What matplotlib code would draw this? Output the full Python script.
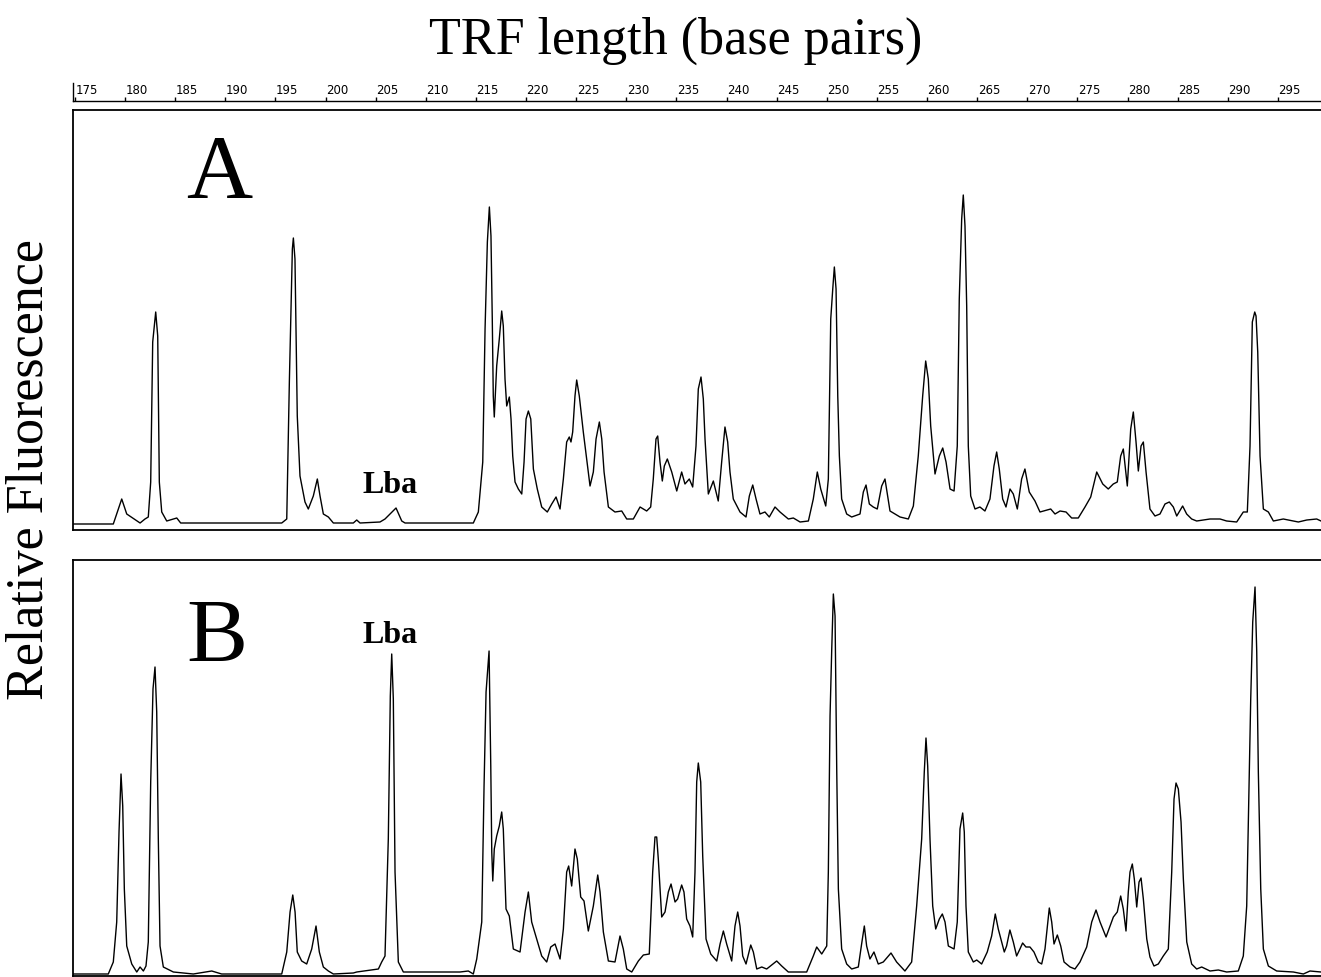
import matplotlib
matplotlib.use("Agg")
import matplotlib.pyplot as plt

# ---------------------------------------------------------
# DATA (x in base pairs)
# ---------------------------------------------------------
ruler_ticks = list(range(175, 300, 5))

# Panel A trace: TRF length (bp), relative fluorescence
a_bp = [174.84, 178.83, 179.67, 180.17, 181.50, 181.99, 182.32, 182.56, 182.76, 183.06,
        183.26, 183.42, 183.66, 184.16, 185.16, 185.55, 195.63, 196.13, 196.39, 196.69,
        196.79, 196.95, 197.18, 197.45, 197.95, 198.28, 198.78, 199.18, 199.45, 199.78,
        200.28, 200.78, 202.77, 203.11, 203.44, 205.43, 205.93, 207.03, 207.60, 207.93,
        214.74, 215.24, 215.68, 215.91, 216.14, 216.34, 216.50, 216.63, 216.73, 216.83,
        217.07, 217.33, 217.57, 217.73, 217.90, 218.07, 218.33, 218.50, 218.67, 218.90,
        219.23, 219.57, 219.80, 220.00, 220.23, 220.47, 220.73, 221.12, 221.56, 222.12,
        222.56, 222.99, 223.39, 223.72, 224.05, 224.31, 224.48, 224.65, 224.88, 225.05,
        225.31, 225.71, 226.05, 226.38, 226.71, 226.98, 227.31, 227.55, 227.78, 228.21,
        228.87, 229.54, 230.04, 230.70, 231.37, 232.03, 232.43, 232.69, 232.96, 233.13,
        233.36, 233.59, 233.79, 234.09, 234.53, 235.03, 235.52, 235.85, 236.28, 236.62,
        236.95, 237.18, 237.45, 237.68, 237.85, 238.18, 238.68, 239.17, 239.51, 239.84,
        240.11, 240.34, 240.67, 241.34, 241.94, 242.27, 242.61, 242.94, 243.33, 243.83,
        244.26, 244.83, 245.33, 246.16, 246.66, 247.33, 248.16, 248.65, 249.05, 249.39,
        249.89, 250.15, 250.39, 250.59, 250.75, 250.92, 251.09, 251.25, 251.48, 251.98,
        252.48, 253.31, 253.64, 253.91, 254.24, 254.63, 255.03, 255.47, 255.80, 256.30,
        257.30, 258.13, 258.63, 259.12, 259.56, 259.86, 260.12, 260.36, 260.79, 261.22,
        261.56, 261.89, 262.29, 262.69, 263.01, 263.21, 263.45, 263.61, 263.78, 263.95,
        264.11, 264.35, 264.78, 265.27, 265.77, 266.27, 266.67, 266.94, 267.20, 267.54,
        267.87, 268.27, 268.60, 269.00, 269.43, 269.76, 270.19, 270.76, 271.26, 272.33,
        272.76, 273.26, 273.86, 274.42, 275.08, 275.75, 276.32, 276.92, 277.52, 278.07,
        278.57, 278.97, 279.31, 279.57, 279.97, 280.31, 280.57, 280.84, 281.07, 281.34,
        281.57, 281.84, 282.23, 282.73, 283.23, 283.73, 284.16, 284.56, 284.90, 285.49,
        285.89, 286.39, 286.89, 288.22, 289.22, 289.88, 290.88, 291.54, 291.94, 292.21,
        292.44, 292.68, 292.81, 292.98, 293.21, 293.54, 294.04, 294.54, 295.53, 297.03,
        297.87, 298.86, 299.29]
a_val = [1, 1, 26, 11, 2, 6, 8, 43, 183, 213,
         189, 43, 13, 4, 7, 2, 2, 6, 143, 276,
         287, 266, 109, 49, 23, 16, 29, 46, 29, 11,
         8, 2, 2, 5, 2, 3, 6, 17, 4, 2,
         2, 13, 63, 196, 283, 318, 289, 206, 129, 108,
         159, 186, 214, 199, 146, 119, 128, 106, 69, 43,
         36, 31, 63, 106, 114, 106, 56, 36, 18, 13,
         21, 28, 16, 46, 83, 88, 83, 93, 129, 145,
         129, 93, 66, 39, 53, 86, 103, 86, 53, 18,
         13, 14, 6, 6, 18, 14, 18, 46, 86, 89,
         63, 44, 59, 66, 53, 34, 53, 41, 46, 38,
         79, 136, 148, 126, 86, 31, 44, 24, 63, 98,
         83, 53, 26, 13, 8, 29, 40, 26, 11, 13,
         8, 18, 13, 6, 7, 3, 4, 26, 53, 36,
         19, 46, 206, 236, 258, 236, 129, 69, 26, 11,
         8, 11, 33, 40, 21, 18, 16, 39, 46, 14,
         8, 6, 19, 69, 129, 164, 146, 99, 51, 69,
         77, 63, 36, 34, 79, 226, 306, 330, 299, 219,
         79, 29, 16, 18, 14, 26, 59, 73, 56, 26,
         18, 36, 31, 16, 46, 56, 33, 24, 13, 16,
         11, 14, 13, 7, 7, 18, 28, 53, 41, 36,
         41, 43, 69, 76, 39, 96, 113, 83, 54, 79,
         83, 53, 16, 9, 11, 21, 23, 18, 9, 19,
         11, 6, 4, 6, 6, 4, 3, 13, 13, 79,
         203, 213, 209, 173, 69, 16, 13, 4, 6, 3,
         5, 6, 4]

# Panel B trace
b_bp = [174.84, 178.33, 178.83, 179.17, 179.40, 179.60, 179.77, 179.93, 180.17, 180.67,
        181.17, 181.50, 181.83, 182.09, 182.32, 182.56, 182.79, 182.99, 183.16, 183.32,
        183.49, 183.82, 184.82, 186.81, 188.65, 189.64, 195.63, 196.13, 196.46, 196.73,
        196.96, 197.18, 197.62, 198.12, 198.62, 199.05, 199.38, 199.78, 200.28, 200.78,
        202.77, 203.11, 205.27, 205.60, 205.93, 206.26, 206.46, 206.60, 206.76, 206.93,
        207.26, 207.76, 213.41, 214.24, 214.74, 215.08, 215.58, 215.81, 216.01, 216.31,
        216.48, 216.58, 216.68, 216.83, 217.07, 217.33, 217.57, 217.73, 218.00, 218.33,
        218.73, 219.40, 219.90, 220.23, 220.56, 221.06, 221.56, 222.06, 222.46, 222.89,
        223.39, 223.72, 224.05, 224.25, 224.55, 224.88, 225.11, 225.45, 225.78, 226.21,
        226.71, 227.15, 227.38, 227.71, 228.21, 228.87, 229.37, 229.70, 230.04, 230.54,
        231.20, 231.70, 232.29, 232.63, 232.86, 233.03, 233.19, 233.53, 233.86, 234.19,
        234.46, 234.86, 235.12, 235.52, 235.75, 236.02, 236.35, 236.62, 236.85, 237.02,
        237.18, 237.42, 237.62, 237.95, 238.42, 239.02, 239.35, 239.68, 240.01, 240.51,
        240.84, 241.11, 241.34, 241.61, 241.94, 242.41, 242.67, 243.01, 243.51, 244.00,
        245.00, 245.50, 246.16, 247.99, 248.65, 248.99, 249.49, 249.99, 250.15, 250.32,
        250.49, 250.65, 250.82, 250.99, 251.15, 251.48, 251.98, 252.48, 253.14, 253.47,
        253.74, 253.97, 254.30, 254.70, 255.13, 255.63, 256.40, 256.96, 257.79, 258.46,
        258.96, 259.46, 259.72, 259.89, 260.06, 260.29, 260.56, 260.86, 261.22, 261.52,
        261.79, 262.12, 262.69, 263.01, 263.28, 263.55, 263.71, 263.88, 264.11, 264.61,
        264.95, 265.44, 266.00, 266.44, 266.80, 267.10, 267.70, 267.93, 268.26, 268.60,
        268.93, 269.26, 269.53, 269.86, 270.26, 270.66, 271.09, 271.43, 271.76, 272.19,
        272.43, 272.66, 272.99, 273.33, 273.66, 274.26, 274.75, 275.25, 275.92, 276.42,
        276.85, 277.25, 277.85, 278.25, 278.58, 278.97, 279.31, 279.57, 279.84, 280.07,
        280.24, 280.47, 280.67, 280.91, 281.14, 281.34, 281.57, 281.91, 282.23, 282.63,
        283.06, 283.56, 284.06, 284.40, 284.63, 284.83, 285.06, 285.33, 285.56, 285.90,
        286.39, 286.89, 287.39, 288.22, 289.05, 289.88, 291.04, 291.54, 291.88, 292.11,
        292.28, 292.48, 292.71, 292.88, 293.04, 293.28, 293.54, 294.04, 294.87, 296.53,
        297.53, 298.19, 299.29]
b_val = [0, 0, 12, 52, 142, 200, 168, 85, 28, 10,
         2, 7, 3, 8, 32, 192, 285, 307, 262, 135,
         28, 7, 2, 0, 3, 0, 0, 22, 62, 79,
         62, 22, 13, 10, 25, 48, 22, 7, 3, 0,
         1, 2, 5, 12, 18, 135, 278, 320, 275, 102,
         12, 2, 2, 3, 0, 15, 52, 188, 282, 323,
         208, 122, 93, 125, 138, 148, 162, 145, 65, 58,
         25, 22, 62, 82, 52, 35, 18, 12, 27, 30,
         15, 45, 102, 108, 88, 125, 115, 77, 73, 43,
         68, 99, 82, 42, 13, 12, 38, 25, 5, 2,
         13, 19, 20, 102, 137, 137, 115, 57, 62, 82,
         90, 72, 75, 89, 82, 55, 48, 37, 102, 192,
         211, 192, 118, 35, 20, 13, 30, 43, 30, 13,
         48, 62, 48, 18, 10, 29, 22, 5, 7, 5,
         13, 8, 2, 2, 18, 27, 20, 28, 102, 258,
         325, 380, 358, 202, 85, 25, 10, 5, 7, 30,
         48, 28, 15, 22, 10, 12, 21, 12, 3, 12,
         68, 135, 202, 236, 208, 135, 68, 45, 55, 60,
         52, 28, 25, 52, 145, 161, 142, 68, 22, 12,
         14, 10, 22, 38, 60, 45, 22, 28, 44, 32,
         18, 25, 31, 27, 27, 22, 12, 10, 25, 66,
         52, 30, 39, 28, 12, 7, 5, 12, 27, 52,
         64, 52, 37, 48, 57, 62, 78, 65, 43, 82,
         102, 110, 95, 67, 92, 96, 75, 35, 17, 8,
         10, 18, 25, 102, 175, 191, 185, 152, 95, 32,
         10, 5, 7, 3, 4, 2, 3, 18, 68, 185,
         275, 352, 387, 322, 202, 85, 25, 8, 3, 2,
         0, 3, 2]

# ---------------------------------------------------------
# LAYOUT
# ---------------------------------------------------------
W, H = 1321, 978
x_range = (174.84, 299.29)
serif = "Liberation Serif"


def px_box(x0, y0, x1, y1):
    # pixel box (top-left origin) -> figure fraction rect
    return [x0 / W, 1 - y1 / H, (x1 - x0) / W, (y1 - y0) / H]


fig = plt.figure(figsize=(W / 100, H / 100), dpi=100)
fig.patch.set_facecolor("white")

# ==== RULER ====
ruler = fig.add_axes(px_box(73.3, 84, W, 102))
ruler.set_xlim(*x_range)
ruler.set_ylim(0, 1)
ruler.spines["top"].set_visible(False)
ruler.spines["right"].set_visible(False)
ruler.spines["left"].set_linewidth(1.0)
ruler.spines["bottom"].set_linewidth(1.0)
ruler.set_xticks(ruler_ticks)
ruler.set_yticks([])
ruler.tick_params(axis="x", direction="in", length=3, width=1, labelbottom=False)
for t in ruler_ticks:
    ruler.text(t + 0.05, 0.42, str(t), fontsize=8.5, ha="left", va="baseline",
               family="DejaVu Sans", color="black")

# ==== PANELS ====
panels = [
    (px_box(73.3, 111, W, 530.5), a_bp, a_val, (-4.5, 415)),
    (px_box(73.3, 560.5, W, 977), b_bp, b_val, (-2, 414.5)),
]
for rect, xs, ys, ylim in panels:
    ax = fig.add_axes(rect)
    ax.plot(xs, ys, color="black", lw=1.0, solid_joinstyle="round")
    ax.set_xlim(*x_range)
    ax.set_ylim(*ylim)
    ax.set_xticks([])
    ax.set_yticks([])
    ax.spines["right"].set_visible(False)
    for s in ("top", "left", "bottom"):
        ax.spines[s].set_linewidth(1.3)

# ==== TEXT ====
fig.text(676 / W, 1 - 54 / H, "TRF length (base pairs)", family=serif,
         fontsize=37.5, ha="center", va="baseline")
fig.text(30 / W, 1 - 470 / H, "Relative Fluorescence", family=serif,
         fontsize=37.5, rotation=90, ha="center", va="center")

fig.text(186 / W, 1 - 198 / H, "A", family=serif, fontsize=66, va="baseline")
fig.text(186 / W, 1 - 662 / H, "B", family=serif, fontsize=66, va="baseline")
fig.text(362 / W, 1 - 493 / H, "Lba", family=serif, fontsize=23,
         fontweight="bold", va="baseline")
fig.text(362 / W, 1 - 643 / H, "Lba", family=serif, fontsize=23,
         fontweight="bold", va="baseline")

fig.savefig("out.png", dpi=100)
